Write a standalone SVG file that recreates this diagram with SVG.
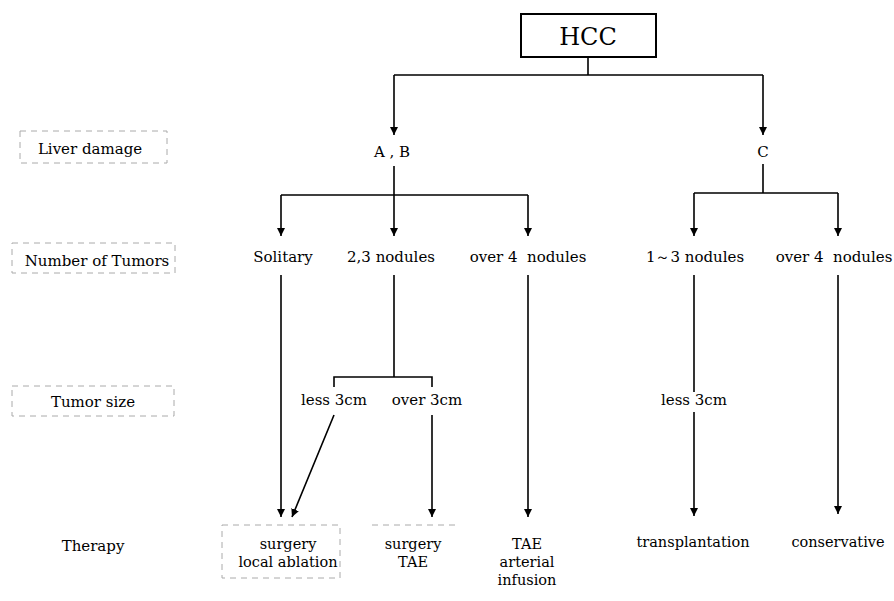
<svg xmlns="http://www.w3.org/2000/svg" width="894" height="601" viewBox="0 0 894 601" font-family="'DejaVu Serif',serif">
<defs>
<marker id="arr" viewBox="0 0 10 10" refX="10" refY="5" markerWidth="8" markerHeight="8" markerUnits="userSpaceOnUse" orient="auto">
<path d="M0,0 L10,5 L0,10 Z" fill="#000"/>
</marker>
<style>
text{font-family:'DejaVu Serif','Liberation Serif',serif;fill:#000;text-anchor:middle}
.t{font-size:15px}
.th{font-size:14.5px}
.lab{font-size:15px}
.c{stroke:#000;stroke-width:1.6;fill:none}
.a{stroke:#000;stroke-width:1.6;fill:none;marker-end:url(#arr)}
.db{stroke:#aaa;stroke-width:1;fill:none;stroke-dasharray:6 5}
</style>
</defs>
<rect width="894" height="601" fill="#fff"/>

<g id="hcc">
<rect x="521" y="14" width="135" height="43" fill="#fff" stroke="#000" stroke-width="2"/>
<text x="588" y="45" font-size="24">HCC</text>
</g>

<g id="label-liver">
<rect class="db" x="20" y="131" width="147" height="32"/>
<text class="lab" x="90" y="154">Liver damage</text>
</g>
<g id="label-number">
<rect class="db" x="12" y="243" width="163" height="30"/>
<text class="lab" x="97" y="266">Number of Tumors</text>
</g>
<g id="label-size">
<rect class="db" x="12" y="386" width="162" height="30"/>
<text class="lab" x="93" y="407">Tumor size</text>
</g>
<g id="label-therapy">
<text class="lab" x="93" y="551">Therapy</text>
</g>

<g id="ab"><text class="lab" x="392" y="157">A , B</text></g>
<g id="c"><text class="lab" x="763" y="157">C</text></g>

<g id="solitary"><text class="t" x="283" y="262">Solitary</text></g>
<g id="n23"><text class="t" x="391" y="262">2,3 nodules</text></g>
<g id="over4ab"><text class="t" x="528" y="262" xml:space="preserve">over 4  nodules</text></g>
<g id="n13"><text class="t" x="695" y="262">1～3 nodules</text></g>
<g id="over4c"><text class="t" x="834" y="262" xml:space="preserve">over 4  nodules</text></g>

<g id="less3"><text class="t" x="334" y="405">less 3cm</text></g>
<g id="over3"><text class="t" x="427" y="405">over 3cm</text></g>
<g id="less3c"><text class="t" x="694" y="405">less 3cm</text></g>

<g id="t-surgery-ablation">
<rect class="db" x="222" y="525" width="118" height="53"/>
<text class="th" x="288" y="549">surgery</text>
<text class="th" x="288" y="567">local ablation</text>
</g>
<g id="t-surgery-tae">
<path class="db" d="M372,525 H455"/>
<text class="th" x="413" y="549">surgery</text>
<text class="th" x="413" y="567">TAE</text>
</g>
<g id="t-tae">
<text class="th" x="527" y="549">TAE</text>
<text class="th" x="527" y="567">arterial</text>
<text class="th" x="527" y="585">infusion</text>
</g>
<g id="t-transplant"><text class="th" x="693" y="547">transplantation</text></g>
<g id="t-conservative"><text class="th" x="838" y="547">conservative</text></g>

<g id="connectors">
<path class="c" d="M588,57 V75 M394,75 H763"/>
<path class="a" d="M394,75 V135"/>
<path class="a" d="M763,75 V135"/>
<path class="c" d="M394,166 V195 M281,195 H528"/>
<path class="a" d="M281,195 V236"/>
<path class="a" d="M394,195 V236"/>
<path class="a" d="M528,195 V236"/>
<path class="c" d="M763,164 V193 M694,193 H838"/>
<path class="a" d="M694,193 V236"/>
<path class="a" d="M838,193 V236"/>
<path class="c" d="M394,275 V377 M334,387 V377 H432 V387"/>
<path class="a" d="M281,275 V517"/>
<path class="a" d="M334,415 L292,517"/>
<path class="a" d="M432,415 V517"/>
<path class="a" d="M528,275 V517"/>
<path class="c" d="M694,275 V392"/>
<path class="a" d="M694,412 V516"/>
<path class="a" d="M838,275 V514"/>
</g>
</svg>
